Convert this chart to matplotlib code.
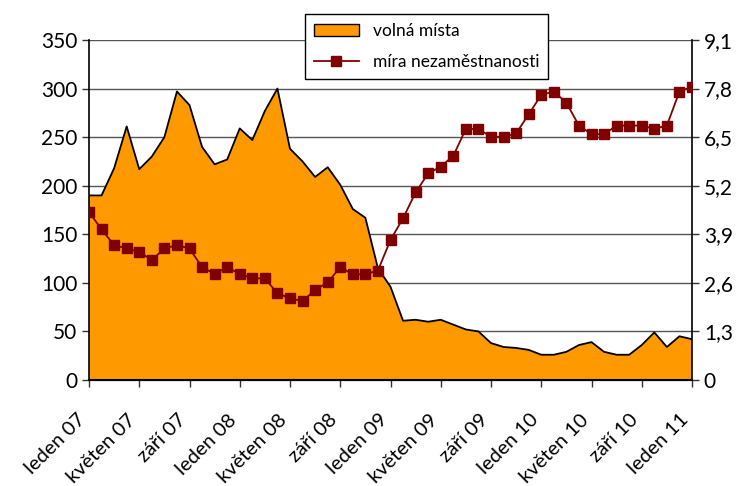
import matplotlib
matplotlib.use("Agg")
import matplotlib.pyplot as plt
import numpy as np
from matplotlib.patches import Patch
from matplotlib.lines import Line2D
from matplotlib.ticker import MultipleLocator, FuncFormatter
from matplotlib.transforms import ScaledTranslation

plt.rcParams['font.family'] = ['Lato', 'DejaVu Sans']

# monthly data, leden 2007 .. leden 2011
volna_mista = [190, 190, 218, 261, 217, 230, 250, 297, 283, 240, 222, 227,
               259, 247, 277, 300, 238, 225, 209, 219, 201, 176, 167, 115,
               96, 61, 62, 60, 62, 57, 52, 50, 38, 34, 33, 31,
               26, 26, 29, 36, 39, 29, 26, 26, 36, 49, 34, 45,
               42]
mira = [4.5, 4.03, 3.61, 3.52, 3.43, 3.21, 3.52, 3.61, 3.52, 3.02, 2.84, 3.02,
        2.84, 2.72, 2.72, 2.32, 2.19, 2.11, 2.41, 2.61, 3.02, 2.83, 2.83, 2.93,
        3.75, 4.33, 5.02, 5.53, 5.71, 6.0, 6.72, 6.72, 6.51, 6.51, 6.6, 7.11,
        7.63, 7.72, 7.42, 6.81, 6.58, 6.58, 6.81, 6.81, 6.81, 6.72, 6.81, 7.72,
        7.85]
tick_labels = ['leden 07', 'květen 07', 'září 07', 'leden 08', 'květen 08',
               'září 08', 'leden 09', 'květen 09', 'září 09', 'leden 10',
               'květen 10', 'září 10', 'leden 11']

x = np.arange(len(volna_mista))
orange = '#FF9900'
red = '#800000'

fig = plt.figure(figsize=(7.44, 4.86), dpi=100)
ax = fig.add_axes([89/744, 1-380/486, (692-89)/744, (380-40)/486])
ax2 = ax.twinx()

ax.fill_between(x, volna_mista, 0, facecolor=orange, edgecolor='none', zorder=2)
ax.plot(x, volna_mista, color='black', lw=1.3, zorder=3)
ax2.plot(x, mira, color=red, lw=1.3, marker='s', markersize=7,
         markerfacecolor=red, markeredgecolor=red, zorder=4)

ax.set_xticks(x[::4])
ax.set_xticklabels([])
ax.set_xlim(0, 48)
ax.set_ylim(0, 350)
ax2.set_ylim(0, 9.1)
ax.yaxis.set_major_locator(MultipleLocator(50))
ax2.yaxis.set_major_locator(MultipleLocator(1.3))
ax2.yaxis.set_major_formatter(FuncFormatter(
    lambda v, p: '0' if abs(v) < 1e-9 else f'{v:.1f}'.replace('.', ',')))

# month labels hang down-left of their ticks, like the excel original
shift = ax.get_xaxis_transform() + ScaledTranslation(-0.12, -0.31, fig.dpi_scale_trans)
for xi, lab in zip(x[::4], tick_labels):
    ax.text(xi, 0, lab, transform=shift, rotation=45, ha='right', va='top',
            rotation_mode='anchor', fontsize=14.5, clip_on=False)

ax.grid(axis='y', color='#555555', lw=1, zorder=0)
ax.set_axisbelow(True)
for a in (ax, ax2):
    a.spines['top'].set_visible(False)
    a.tick_params(labelsize=15, length=5, width=1, color='#333333')
ax2.spines['left'].set_visible(False)
ax.spines['right'].set_visible(False)
ax.spines['left'].set_linewidth(1.2)
ax2.spines['right'].set_linewidth(1.2)
ax.spines['bottom'].set_linewidth(1.5)

handles = [Patch(facecolor=orange, edgecolor='black', lw=1),
           Line2D([], [], color=red, lw=1.3, marker='s', markersize=7)]
leg = fig.legend(handles, ['volná místa', 'míra nezaměstnanosti'],
                 loc='upper left', bbox_to_anchor=(305/744, 1-14/486),
                 borderaxespad=0, fontsize=12.5, frameon=True, fancybox=False,
                 framealpha=1, edgecolor='black', borderpad=0.5,
                 handlelength=2.6, labelspacing=0.9)
leg.get_frame().set_linewidth(1)

fig.savefig('out.png', dpi=100)
